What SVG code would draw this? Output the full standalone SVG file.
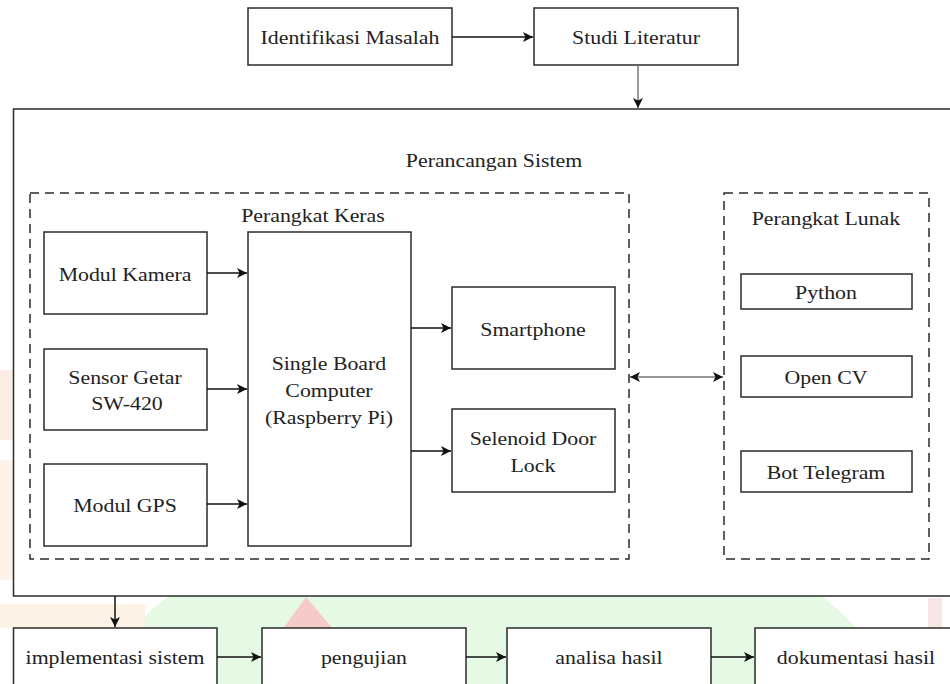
<svg xmlns="http://www.w3.org/2000/svg" width="950" height="684" viewBox="0 0 950 684">
  <defs>
    <style>
      .box { fill: #ffffff; stroke: #2b2b2b; stroke-width: 1.5; }
      .dash { fill: none; stroke: #2b2b2b; stroke-width: 1.5; stroke-dasharray: 9 6; }
      .lbl { font-family: "Liberation Serif", "Times New Roman", serif; font-size: 19.5px; fill: #222222; text-anchor: middle; dominant-baseline: central; transform-box: fill-box; transform-origin: center; transform: scaleX(1.12); }
      .edge { fill: none; stroke: #111111; stroke-width: 1.5; }
      .edge-gray { fill: none; stroke: #777777; stroke-width: 1.5; }
    </style>
    <marker id="arrowBig" viewBox="0 0 10 10" refX="10" refY="5" markerWidth="10" markerHeight="10" markerUnits="userSpaceOnUse" orient="auto-start-reverse">
      <path d="M0,0 L10,5 L0,10 L2.5,5 Z" fill="#111111"/>
    </marker>
  </defs>

  <!-- faint background watermark -->
  <g id="watermark">
    <rect x="0" y="0" width="950" height="684" fill="#ffffff"/>
    <ellipse cx="495" cy="700" rx="390" ry="190" fill="#e5f9e5"/>
    <polygon points="282,630 306,597 334,630" fill="#f7caca"/>
    <rect x="0" y="604" width="145" height="24" fill="#fdf2e6"/>
    <rect x="0" y="370" width="13" height="70" fill="#fbece6"/>
    <rect x="0" y="460" width="13" height="120" fill="#fdf3e8"/>
    <rect x="928" y="598" width="14" height="86" fill="#f7e6e6"/>
  </g>

  <!-- outer container -->
  <g id="perancangan">
    <rect class="box" x="13.5" y="109" width="945" height="487"/>
    <text class="lbl" x="494" y="160">Perancangan Sistem</text>
  </g>
  <g id="perangkat-keras">
    <rect class="dash" x="30" y="193" width="599" height="366"/>
    <text class="lbl" x="313" y="215">Perangkat Keras</text>
  </g>
  <g id="perangkat-lunak">
    <rect class="dash" x="724" y="193" width="205" height="366"/>
    <text class="lbl" x="826" y="218">Perangkat Lunak</text>
  </g>

  <g id="identifikasi">
    <rect class="box" x="248" y="8" width="204" height="57"/>
    <text class="lbl" x="350" y="37">Identifikasi Masalah</text>
  </g>
  <g id="studi">
    <rect class="box" x="534" y="8" width="204" height="57"/>
    <text class="lbl" x="636" y="37">Studi Literatur</text>
  </g>

  <g id="modul-kamera">
    <rect class="box" x="44" y="232" width="163" height="82"/>
    <text class="lbl" x="125" y="274">Modul Kamera</text>
  </g>
  <g id="sensor-getar">
    <rect class="box" x="44" y="349" width="163" height="81"/>
    <text class="lbl" x="125" y="377">Sensor Getar</text>
    <text class="lbl" x="127" y="403">SW-420</text>
  </g>
  <g id="modul-gps">
    <rect class="box" x="44" y="464" width="163" height="82"/>
    <text class="lbl" x="125" y="505">Modul GPS</text>
  </g>
  <g id="sbc">
    <rect class="box" x="248" y="232" width="163" height="314"/>
    <text class="lbl" x="329" y="363">Single Board</text>
    <text class="lbl" x="329" y="390">Computer</text>
    <text class="lbl" x="329" y="417">(Raspberry Pi)</text>
  </g>
  <g id="smartphone">
    <rect class="box" x="452" y="287" width="163" height="82"/>
    <text class="lbl" x="533" y="329">Smartphone</text>
  </g>
  <g id="selenoid">
    <rect class="box" x="452" y="409" width="163" height="83"/>
    <text class="lbl" x="533" y="438">Selenoid Door</text>
    <text class="lbl" x="533" y="465">Lock</text>
  </g>

  <g id="python">
    <rect class="box" x="741" y="274" width="171" height="35"/>
    <text class="lbl" x="826" y="292">Python</text>
  </g>
  <g id="opencv">
    <rect class="box" x="741" y="356" width="171" height="41"/>
    <text class="lbl" x="826" y="377">Open CV</text>
  </g>
  <g id="bot-telegram">
    <rect class="box" x="741" y="451" width="171" height="41"/>
    <text class="lbl" x="826" y="472">Bot Telegram</text>
  </g>

  <g id="implementasi">
    <rect class="box" x="13.5" y="628" width="203.5" height="80"/>
    <text class="lbl" x="115" y="657">implementasi sistem</text>
  </g>
  <g id="pengujian">
    <rect class="box" x="262" y="628" width="204" height="80"/>
    <text class="lbl" x="364" y="657">pengujian</text>
  </g>
  <g id="analisa">
    <rect class="box" x="507" y="628" width="204" height="80"/>
    <text class="lbl" x="609" y="657">analisa hasil</text>
  </g>
  <g id="dokumentasi">
    <rect class="box" x="755" y="628" width="204" height="80"/>
    <text class="lbl" x="856" y="657">dokumentasi hasil</text>
  </g>

  <g id="connectors">
    <path class="edge" d="M452,37 H533" marker-end="url(#arrowBig)"/>
    <path class="edge-gray" d="M638,65 V108" marker-end="url(#arrowBig)"/>
    <path class="edge" d="M207,273 H247" marker-end="url(#arrowBig)"/>
    <path class="edge" d="M207,389 H247" marker-end="url(#arrowBig)"/>
    <path class="edge" d="M207,504 H247" marker-end="url(#arrowBig)"/>
    <path class="edge" d="M411,328 H451" marker-end="url(#arrowBig)"/>
    <path class="edge" d="M411,451 H451" marker-end="url(#arrowBig)"/>
    <path class="edge-gray" d="M630,377 H723" marker-start="url(#arrowBig)" marker-end="url(#arrowBig)"/>
    <path class="edge" d="M115,596 V627" marker-end="url(#arrowBig)"/>
    <path class="edge" d="M217,657 H261" marker-end="url(#arrowBig)"/>
    <path class="edge" d="M466,657 H506" marker-end="url(#arrowBig)"/>
    <path class="edge" d="M711,657 H754" marker-end="url(#arrowBig)"/>
  </g>
</svg>
